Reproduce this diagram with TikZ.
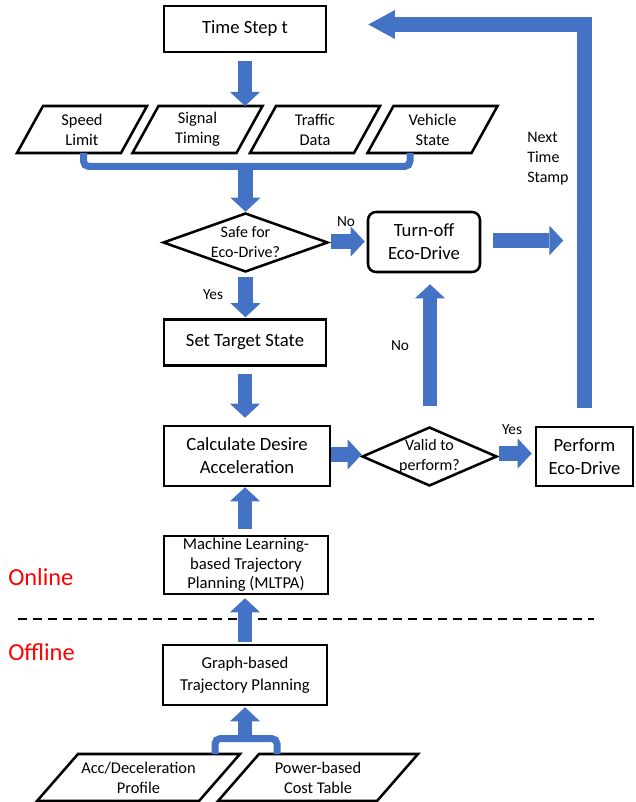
\documentclass[tikz,border=0pt]{standalone}
\usepackage{fontspec}
\setmainfont{Carlito}
\usetikzlibrary{arrows.meta,calc,shapes.geometric}
\definecolor{ablue}{HTML}{4472C4}
\tikzset{
  box/.style={draw, line width=1.9pt, align=center, inner sep=0pt, font=\fontsize{14}{17.25}\selectfont},
  smallbox/.style={box, font=\fontsize{12.5}{14.6}\selectfont},
  midbox/.style={box, font=\fontsize{12.5}{17}\selectfont},
  dia/.style={diamond, draw, line width=1.9pt, inner sep=0pt},
  dtext/.style={align=center, inner sep=0pt, font=\fontsize{12}{15}\selectfont},
  ptext/.style={align=center, inner sep=0pt, font=\fontsize{12.3}{15}\selectfont},
  pline/.style={line width=1.9pt, line join=miter},
  barrow/.style={ablue, line width=11pt, -{Triangle[width=22.5pt,length=10.5pt,line width'=0pt]}},
  bigarrow/.style={ablue, line width=11pt, line join=miter, -{Triangle[width=21.75pt,length=20pt,line width'=0pt]}},
  bracket/.style={ablue, line width=5.25pt, rounded corners=4pt},
  lbl/.style={inner sep=0pt, font=\fontsize{11.5}{14}\selectfont},
  side/.style={inner sep=0pt, red, font=\fontsize{18.3}{22}\selectfont},
  sepline/.style={line width=2pt, dash pattern=on 6.75pt off 4.5pt},
}
\newcommand\paragr[7]{%
  \node[ptext] (#1) at (#2,#3) {#7};
  \draw[pline] ($(#1)+({-#4/2},{#5/2})$) -- ($(#1)+({-#4/2+#6},{-#5/2})$)
    -- ($(#1)+({#4/2},{-#5/2})$) -- ($(#1)+({#4/2-#6},{#5/2})$) -- cycle;
  \coordinate (#1-n) at ($(#1)+({#6/2},{-#5/2})$);
  \coordinate (#1-s) at ($(#1)+({-#6/2},{#5/2})$);
}
\begin{document}
\begin{tikzpicture}[x=0.75pt,y=-0.75pt]
\useasboundingbox (0,0) rectangle (635,802);

% boxes
\node[box, minimum width=121.5pt, minimum height=34.5pt] (ts) at (245,29) {Time Step t};
\paragr{sl}{82}{129.5}{130}{47}{26}{Speed\\Limit}
\paragr{sig}{197.5}{129.5}{130}{47}{26}{Signal\\Timing}
\paragr{tra}{315}{129.5}{130}{47}{26}{Traffic\\Data}
\paragr{vs}{432.5}{129.5}{130}{47}{26}{Vehicle\\State}

\node[dia, minimum width=123.75pt, minimum height=44.25pt] (safe) at (245.5,242.5) {};
\node[dtext] (safetxt) at (safe) {Safe for\\Eco-Drive?};
\node[box, rounded corners=6pt, minimum width=84pt, minimum height=45pt] (turnoff) at (424,242) {Turn-off\\Eco-Drive};
\node[box, minimum width=121.5pt, minimum height=34.5pt] (set) at (245,342.5) {Set Target State};
\node[box, minimum width=124.5pt, minimum height=45pt] (calc) at (247,456) {Calculate Desire\\Acceleration};
\node[dia, minimum width=101.25pt, minimum height=44.25pt] (valid) at (429.5,456.5) {};
\node[dtext] (validtxt) at (valid) {Valid to\\perform?};
\node[box, minimum width=72.75pt, minimum height=44.25pt] (perform) at (584.5,456.5) {Perform\\Eco-Drive};
\node[smallbox, minimum width=123pt, minimum height=43.5pt] (ml) at (246,565) {Machine Learning-\\based Trajectory\\Planning (MLTPA)};
\node[midbox, minimum width=123pt, minimum height=45pt] (graph) at (245,675) {Graph-based\\Trajectory Planning};
\paragr{acc}{138.5}{777.5}{203}{47}{41}{Acc/Deceleration\\Profile}
\paragr{pow}{318}{777.5}{200}{47}{41}{Power-based\\Cost Table}

% labels
\node[lbl] (no1) at (346,222) {No};
\node[lbl] (yes1) at (213,295) {Yes};
\node[lbl] (yes2) at (512,430) {Yes};
\node[lbl] (no2) at (400,346) {No};
\node[anchor=north west, align=left, inner sep=0pt, font=\fontsize{12}{15}\selectfont] (ntslbl) at (527,131.5) {Next\\Time\\Stamp};
\node[side, anchor=base west] (online) at (8,585) {Online};
\node[side, anchor=base west] (offline) at (8,660) {Offline};

% separator
\draw[sepline] (18,619) -- (594,619);

% connectors
\draw[barrow] ($(ts.south)+(0,8)$) -- (ts.south |- sig-n);
\draw[bracket] ($(sl |- sl-s)+(1.5,0)$) -- ++(0,13.5) -| ($(vs |- vs-s)+(-22.5,0)$);
\coordinate (j1) at ($(safe.north |- sl-s)+(0,13.5)$);
\draw[barrow] (j1) -- (safe.north);
\draw[barrow] ($(safe.east)+(2,-1)$) -- ($(turnoff.west)+(-2,-0.5)$);
\coordinate (ntsfree) at ($(turnoff.east)+(82,-1.5)$);
\draw[barrow] ($(turnoff.east)+(12,-1.5)$) -- (ntsfree);
\draw[barrow] ($(safe.south)+(0,4)$) -- ($(safe.south |- set.north)+(0,-1)$);
\draw[barrow] ($(set.south)+(0,7)$) -- ($(set.south |- calc.north)+(0,-7)$);
\draw[barrow] ($(calc.east)+(0,-1.5)$) -- ($(calc.east -| valid.west)+(1,-1.5)$);
\draw[barrow] ($(valid.east)+(1,-3)$) -- ($(perform.west)+(-3,-3)$);
\draw[barrow] ($(valid.north)+(0.5,-20)$) -- ($(valid.north |- turnoff.south)+(0.5,11)$);
\coordinate (nstip) at ($(ts.east)+(41,-4.5)$);
\draw[bigarrow] ($(perform.north)+(0,-18)$) |- (nstip);
\draw[barrow] ($(ml.north)+(-1,-6)$) -- ($(ml.north |- calc.south)+(-1,0)$);
\draw[barrow] ($(graph.north)+(0,-2)$) -- ($(graph.north |- ml.south)+(0,3)$);
\draw[bracket] ($(acc-n)+(56,0)$) -- ++(0,-15.5) -| ($(pow-n)+(-61.5,0)$);
\coordinate (j2) at ($(graph.south |- acc-n)+(0,-15.5)$);
\draw[barrow] (j2) -- ($(graph.south)+(0,1)$);
\end{tikzpicture}
\end{document}
